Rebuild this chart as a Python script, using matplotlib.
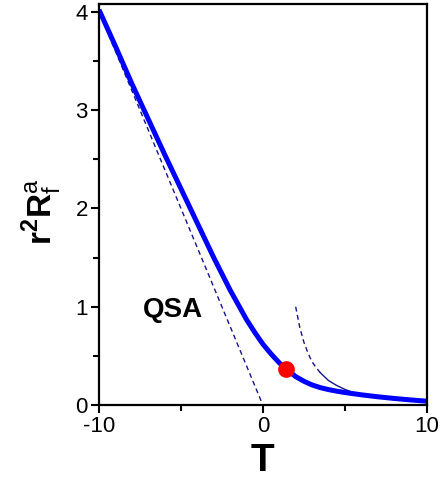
import numpy as np
import matplotlib
matplotlib.use("Agg")
import matplotlib.pyplot as plt
from matplotlib.ticker import MultipleLocator

plt.rcParams["font.family"] = ["Liberation Sans", "DejaVu Sans"]
plt.rcParams["mathtext.fontset"] = "custom"
plt.rcParams["mathtext.rm"] = "Liberation Sans"
plt.rcParams["mathtext.bf"] = "Liberation Sans:bold"
plt.rcParams["axes.unicode_minus"] = False

# courbe complète
T_full = [-10, -9, -8, -7, -6, -5, -4, -3, -2, -1, -0.5, 0, 0.5, 1, 1.41,
          2, 2.5, 3, 3.5, 4, 4.5, 5, 6, 7, 8, 9, 10]
R_full = [4.02, 3.65, 3.27, 2.91, 2.55, 2.20, 1.85, 1.50, 1.17, 0.87, 0.74,
          0.62, 0.52, 0.43, 0.37, 0.29, 0.243, 0.205, 0.178, 0.158, 0.142,
          0.128, 0.105, 0.085, 0.068, 0.053, 0.04]

# approximation QSA (droite)
T_qsa = [-10, -0.1]
R_qsa = [4.0, 0.04]

# asymptote T grand
T_asym = [2, 2.25, 2.5, 2.75, 3, 3.25, 3.5, 4, 4.5, 5, 5.5, 6, 7, 8, 9, 10]
R_asym = [1.0, 0.79, 0.64, 0.53, 0.44, 0.38, 0.33, 0.25, 0.20, 0.16, 0.13,
          0.11, 0.082, 0.063, 0.049, 0.04]

# point marqué
T_pt = [1.41]
R_pt = [0.37]

fig = plt.figure(figsize=(4.4, 4.8), dpi=100)
ax = fig.add_axes([0.225, 0.156, 0.745, 0.836])

navy = "#14148c"
ax.plot(T_qsa, R_qsa, color=navy, lw=1.0, ls=(0, (3.5, 2.5)))
n_dash = 7
ax.plot(T_asym[:n_dash], R_asym[:n_dash], color=navy, lw=1.0, ls=(0, (3.5, 2.5)))
ax.plot(T_asym[n_dash - 1:], R_asym[n_dash - 1:], color=navy, lw=1.0)
ax.plot(T_full, R_full, color="#0000ff", lw=3.6, solid_capstyle="butt",
        solid_joinstyle="round")
ax.plot(T_pt, R_pt, "o", color="#ff0000", ms=11, mec="#ff0000", zorder=5)

ax.text(-5.5, 0.97, "QSA", fontsize=20, fontweight="bold", ha="center", va="center")

ax.set_xlim(-10, 10)
ax.set_ylim(0, 4.08)
ax.xaxis.set_major_locator(MultipleLocator(10))
ax.xaxis.set_minor_locator(MultipleLocator(5))
ax.yaxis.set_major_locator(MultipleLocator(1))
ax.yaxis.set_minor_locator(MultipleLocator(0.5))
ax.tick_params(which="both", direction="out", width=1.5, labelsize=16,
               top=False, right=False)
ax.tick_params(which="major", length=6, pad=2)
ax.tick_params(which="minor", length=4)
for s in ax.spines.values():
    s.set_linewidth(1.6)

fig.text(262 / 440, 1 - 461 / 480, "T", fontsize=28, fontweight="bold",
         ha="center", va="center")
fig.text(42 / 440, 1 - 212 / 480,
         r"$\mathbf{r}^{\mathbf{2}}\mathbf{R}_{\mathrm{f}}^{\mathrm{a}}$",
         fontsize=24, rotation=90, ha="center", va="center")

fig.savefig("out.png", dpi=100)
